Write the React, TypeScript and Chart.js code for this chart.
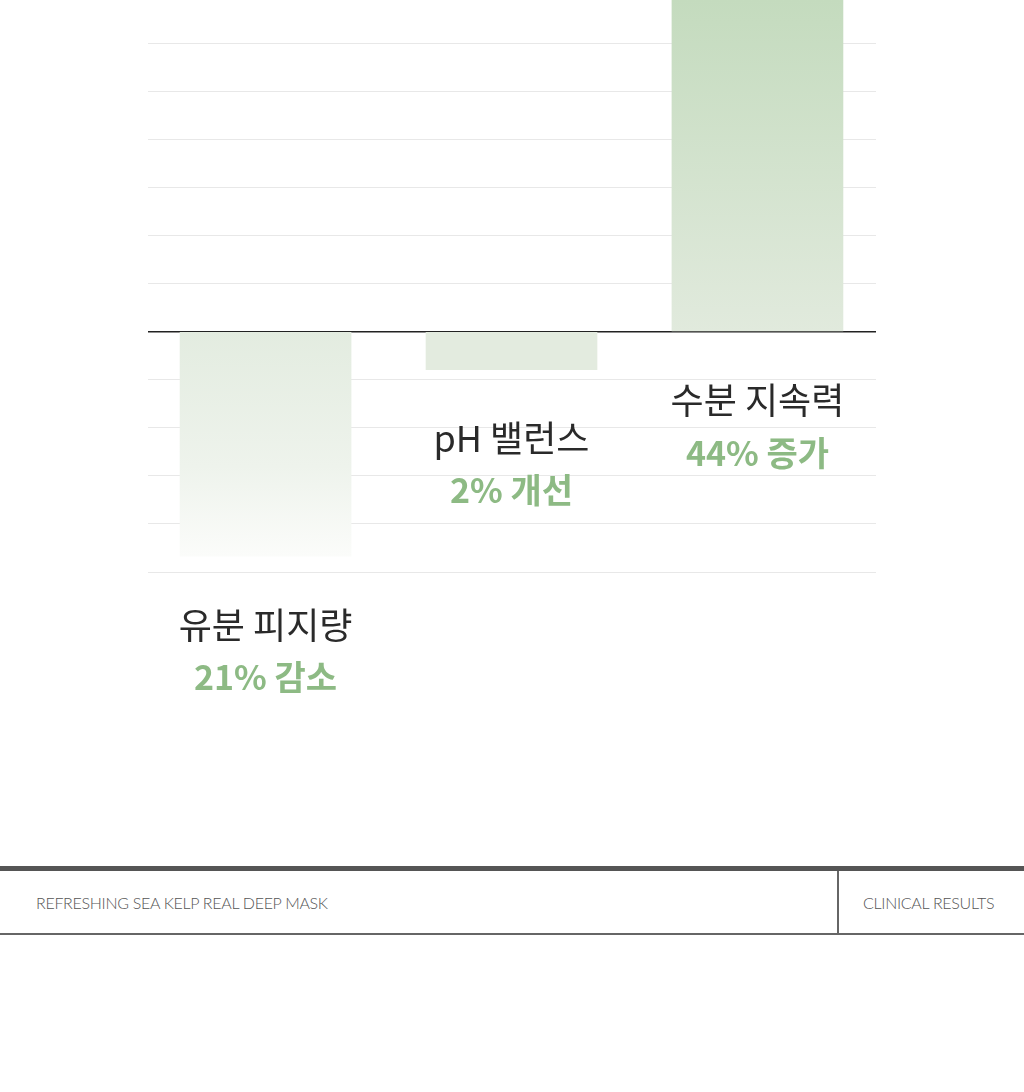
import React, { useEffect, useRef } from "react";
import { Chart, registerables } from "chart.js";

Chart.register(...registerables);

// Categories and their texts
const categories = ["유분 피지량", "pH 밸런스", "수분 지속력"];
const resultLabels = ["21% 감소", "2% 개선", "44% 증가"];
// Bar lengths as drawn in the picture (grid units, 1 unit = one grid row)
const barLengths = [-4.67, -0.79, 7.2];
// Category positions on the x axis
const positions = [0, 1, 2];
// Grid ticks
const gridTicks = [-5, -4, -3, -2, -1, 0, 1, 2, 3, 4, 5, 6];
const footerLeft = "REFRESHING SEA KELP REAL DEEP MASK";
const footerRight = "CLINICAL RESULTS";

const GREEN = "#8dba84";
const DARK = "#2a2a2a";

function barColor(ctx: any) {
  const chart = ctx.chart;
  const area = chart.chartArea;
  if (!area) return "#e3ebdf";
  const y = chart.scales.y;
  const i = ctx.dataIndex;
  const v = barLengths[i];
  const c = chart.ctx as CanvasRenderingContext2D;
  const zero = y.getPixelForValue(0);
  const end = y.getPixelForValue(v);
  if (i === 0) {
    const g = c.createLinearGradient(0, zero, 0, end);
    g.addColorStop(0, "#e3ece0");
    g.addColorStop(0.6, "#eef3ec");
    g.addColorStop(1, "#fbfcfa");
    return g;
  }
  if (i === 1) return "#e3ebdf";
  const g = c.createLinearGradient(0, area.top, 0, zero);
  g.addColorStop(0, "#c4dbbe");
  g.addColorStop(1, "#e1eadd");
  return g;
}

const labelPlugin = {
  id: "labelPlugin",
  afterDatasetsDraw(chart: any) {
    const c = chart.ctx as CanvasRenderingContext2D;
    const x = chart.scales.x;
    const y = chart.scales.y;
    c.save();
    c.textAlign = "center";
    c.textBaseline = "middle";
    for (let i = 0; i < categories.length; i++) {
      const cx = x.getPixelForValue(positions[i]);
      const bottom = Math.max(y.getPixelForValue(0), y.getPixelForValue(barLengths[i]));
      const ny = bottom + 69;
      c.fillStyle = DARK;
      c.font = '400 36px "Noto Sans CJK KR", "Noto Sans", sans-serif';
      c.fillText(categories[i], cx, ny);
      c.fillStyle = GREEN;
      c.font = '700 34px "Noto Sans CJK KR", "Noto Sans", sans-serif';
      c.fillText(resultLabels[i], cx, ny + 52);
    }
    c.restore();
  },
};

export default function App() {
  const ref = useRef<HTMLCanvasElement | null>(null);
  useEffect(() => {
    if (!ref.current) return;
    const chart = new Chart(ref.current, {
      type: "bar",
      data: {
        datasets: [
          {
            data: positions.map((p, i) => ({ x: p, y: barLengths[i] })),
            backgroundColor: barColor as any,
            borderWidth: 0,
            barThickness: 171,
          },
        ],
      },
      options: {
        animation: false,
        responsive: false,
        maintainAspectRatio: false,
        events: [],
        layout: { padding: { left: 148, right: 148, top: 0, bottom: 860 - 572 } },
        plugins: { legend: { display: false }, tooltip: { enabled: false } },
        scales: {
          x: {
            type: "linear",
            min: -0.478,
            max: 2.482,
            offset: false,
            display: false,
          },
          y: {
            type: "linear",
            min: -5,
            max: 6.896,
            z: 1,
            afterBuildTicks: (scale: any) => {
              scale.ticks = gridTicks.map((v) => ({ value: v }));
            },
            ticks: { display: false },
            border: { display: false },
            grid: {
              drawTicks: false,
              color: (ctx: any) => (ctx.tick && ctx.tick.value === 0 ? "#222222" : "rgba(210,210,210,0.5)"),
              lineWidth: (ctx: any) => (ctx.tick && ctx.tick.value === 0 ? 1.5 : 1),
            },
          },
        },
      },
      plugins: [labelPlugin],
    } as any);
    return () => chart.destroy();
  }, []);

  const footerFont: React.CSSProperties = {
    position: "absolute",
    fontFamily: 'Lato, "Liberation Sans", sans-serif',
    fontWeight: 300,
    fontSize: 16,
    color: "#555",
    lineHeight: "20px",
    whiteSpace: "nowrap",
    letterSpacing: "-0.3px",
  };

  return (
    <div style={{ position: "absolute", left: 0, top: 0, width: 1024, height: 1092, background: "#fff", overflow: "hidden" }}>
      <canvas ref={ref} width={1024} height={860} style={{ position: "absolute", left: 0, top: 0, width: 1024, height: 860 }} />
      <div style={{ position: "absolute", left: 0, top: 866, width: 1024, height: 5, background: "#555" }} />
      <div style={{ position: "absolute", left: 837, top: 871, width: 2, height: 63, background: "#666" }} />
      <div style={{ position: "absolute", left: 0, top: 933, width: 1024, height: 2, background: "#666" }} />
      <div style={{ ...footerFont, left: 36, top: 893 }}>{footerLeft}</div>
      <div style={{ ...footerFont, left: 863, top: 893 }}>{footerRight}</div>
    </div>
  );
}
